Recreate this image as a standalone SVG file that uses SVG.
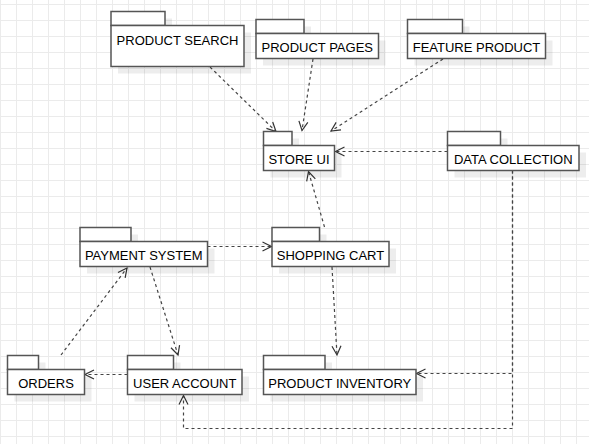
<svg xmlns="http://www.w3.org/2000/svg" width="589" height="444" viewBox="0 0 589 444">
<defs>
<pattern id="grid" patternUnits="userSpaceOnUse" x="0" y="4" width="16" height="16">
<path d="M0.5,0 V16 M0,0.5 H16" fill="none" stroke="#ebebeb" stroke-width="1"/>
</pattern>
<marker id="open" markerUnits="userSpaceOnUse" markerWidth="12" markerHeight="12" refX="10" refY="6" orient="auto">
<path d="M1,1.5 L10,6 L1,10.5" fill="none" stroke="#333" stroke-width="1.2"/>
</marker>
<style>
.sh{fill:#000;fill-opacity:0.07;stroke:none}
.box{fill:#fff;stroke:#555;stroke-width:1.5}
.lbl{font-family:"Liberation Sans",Arial,sans-serif;font-size:13px;fill:#000;text-anchor:middle}
.edge{fill:none;stroke:#444;stroke-width:1.2;stroke-dasharray:3 3;marker-end:url(#open)}
</style>
</defs>
<rect width="589" height="444" fill="#fff"/>
<rect width="589" height="444" fill="url(#grid)"/>

<g id="connectors">
<path class="edge" d="M210,67 L276,131.5"/>
<path class="edge" d="M313,59 L302,130.5"/>
<path class="edge" d="M443,59 L331,131"/>
<path class="edge" d="M447.5,151.5 L335.5,151.5"/>
<path class="edge" d="M324.5,227 L308.5,171.5"/>
<path class="edge" d="M207.5,246.5 L271.5,246.5"/>
<path class="edge" d="M332,267 L337,355"/>
<path class="edge" d="M150,267 L178,355"/>
<path class="edge" d="M61,355 L127,268"/>
<path class="edge" d="M127.5,374.5 L85,374.5"/>
<path class="edge" d="M512.5,170.5 L512.5,373.5 L416.5,373.5"/>
<path class="edge" d="M512.5,170.5 L512.5,428.5 L183.5,428.5 L183.5,395.5"/>
</g>

<g id="product-search">
<rect class="sh" x="118" y="18.5" width="54" height="14"/>
<rect class="sh" x="118" y="32.5" width="133" height="41"/>
<rect class="box" x="111" y="11.5" width="54" height="14"/>
<rect class="box" x="111" y="25.5" width="133" height="41"/>
<text class="lbl" x="177.5" y="44.5">PRODUCT SEARCH</text>
</g>

<g id="product-pages">
<rect class="sh" x="263" y="26.5" width="48" height="14"/>
<rect class="sh" x="263" y="40.5" width="122.5" height="25"/>
<rect class="box" x="256" y="19.5" width="48" height="14"/>
<rect class="box" x="256" y="33.5" width="122.5" height="25"/>
<text class="lbl" x="317.25" y="52">PRODUCT PAGES</text>
</g>

<g id="feature-product">
<rect class="sh" x="414.5" y="26.5" width="55" height="14"/>
<rect class="sh" x="414.5" y="40.5" width="138" height="25"/>
<rect class="box" x="407.5" y="19.5" width="55" height="14"/>
<rect class="box" x="407.5" y="33.5" width="138" height="25"/>
<text class="lbl" x="476.5" y="52">FEATURE PRODUCT</text>
</g>

<g id="store-ui">
<rect class="sh" x="270.5" y="138.5" width="28.5" height="14"/>
<rect class="sh" x="270.5" y="152.5" width="71" height="25"/>
<rect class="box" x="263.5" y="131.5" width="28.5" height="14"/>
<rect class="box" x="263.5" y="145.5" width="71" height="25"/>
<text class="lbl" x="299" y="164">STORE UI</text>
</g>

<g id="data-collection">
<rect class="sh" x="454.5" y="138.5" width="53" height="14"/>
<rect class="sh" x="454.5" y="152.5" width="131.5" height="25"/>
<rect class="box" x="447.5" y="131.5" width="53" height="14"/>
<rect class="box" x="447.5" y="145.5" width="131.5" height="25"/>
<text class="lbl" x="513.25" y="164">DATA COLLECTION</text>
</g>

<g id="payment-system">
<rect class="sh" x="87" y="234.5" width="51" height="14"/>
<rect class="sh" x="87" y="248.5" width="127.5" height="25"/>
<rect class="box" x="80" y="227.5" width="51" height="14"/>
<rect class="box" x="80" y="241.5" width="127.5" height="25"/>
<text class="lbl" x="143.75" y="260">PAYMENT SYSTEM</text>
</g>

<g id="shopping-cart">
<rect class="sh" x="279" y="234.5" width="47.5" height="14"/>
<rect class="sh" x="279" y="248.5" width="117" height="25"/>
<rect class="box" x="272" y="227.5" width="47.5" height="14"/>
<rect class="box" x="272" y="241.5" width="117" height="25"/>
<text class="lbl" x="330.5" y="260">SHOPPING CART</text>
</g>

<g id="orders">
<rect class="sh" x="14.5" y="362.5" width="31" height="14"/>
<rect class="sh" x="14.5" y="376.5" width="77" height="25"/>
<rect class="box" x="7.5" y="355.5" width="31" height="14"/>
<rect class="box" x="7.5" y="369.5" width="77" height="25"/>
<text class="lbl" x="46" y="388">ORDERS</text>
</g>

<g id="user-account">
<rect class="sh" x="134.5" y="362.5" width="46" height="14"/>
<rect class="sh" x="134.5" y="376.5" width="114.5" height="25"/>
<rect class="box" x="127.5" y="355.5" width="46" height="14"/>
<rect class="box" x="127.5" y="369.5" width="114.5" height="25"/>
<text class="lbl" x="184.75" y="388">USER ACCOUNT</text>
</g>

<g id="product-inventory">
<rect class="sh" x="270.5" y="362.5" width="61.5" height="14"/>
<rect class="sh" x="270.5" y="376.5" width="152.5" height="25"/>
<rect class="box" x="263.5" y="355.5" width="61.5" height="14"/>
<rect class="box" x="263.5" y="369.5" width="152.5" height="25"/>
<text class="lbl" x="339.75" y="388">PRODUCT INVENTORY</text>
</g>
</svg>
